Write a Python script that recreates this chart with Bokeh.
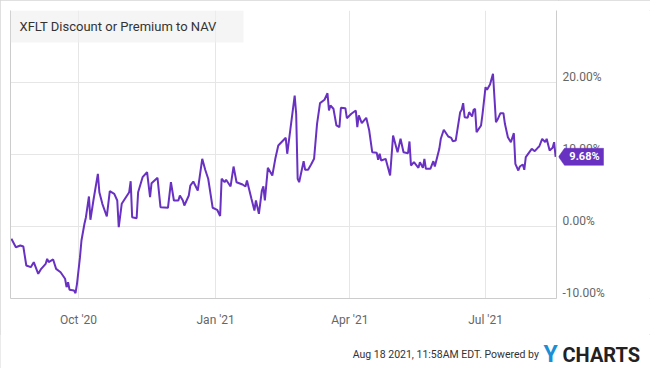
import pandas as pd
from bokeh.plotting import figure
from bokeh.layouts import column, row
from bokeh.models import (Range1d, LinearAxis, DatetimeAxis, FixedTicker, DatetimeTickFormatter,
                          Grid, Label, BoxAnnotation, ColumnDataSource)
from bokeh.core.properties import value
from bokeh.embed import file_html
from bokeh.resources import INLINE

# ---------------- data ----------------
title_text = "XFLT Discount or Premium to NAV"
footer_text = "Aug 18 2021, 11:58AM EDT.  Powered by"
brand_y = "Y"
brand_rest = "CHARTS"

x_tick_dates = ["2020-10-01", "2021-01-01", "2021-04-01", "2021-07-01"]
y_ticks = [-10, 0, 10, 20]
y_tick_labels = ["-10.00%", "0.00%", "10.00%", "20.00%"]

dates = [
    "2020-08-17", "2020-08-20", "2020-08-23", "2020-08-25", "2020-08-27", "2020-08-30", "2020-09-01",
    "2020-09-04", "2020-09-06", "2020-09-09", "2020-09-10", "2020-09-11", "2020-09-14", "2020-09-16",
    "2020-09-19", "2020-09-22", "2020-09-23", "2020-09-24", "2020-09-25", "2020-09-28", "2020-09-29",
    "2020-09-30",
    "2020-10-02", "2020-10-03", "2020-10-05", "2020-10-06", "2020-10-08", "2020-10-09", "2020-10-11",
    "2020-10-14", "2020-10-15", "2020-10-17", "2020-10-20", "2020-10-22", "2020-10-25", "2020-10-27",
    "2020-10-28", "2020-10-30",
    "2020-11-04", "2020-11-05", "2020-11-06", "2020-11-09", "2020-11-10", "2020-11-13", "2020-11-16",
    "2020-11-18", "2020-11-19", "2020-11-23", "2020-11-25", "2020-11-30",
    "2020-12-02", "2020-12-04", "2020-12-07", "2020-12-08", "2020-12-10", "2020-12-11", "2020-12-14",
    "2020-12-15", "2020-12-17", "2020-12-20", "2020-12-23", "2020-12-25", "2020-12-27", "2020-12-30",
    "2021-01-02", "2021-01-04", "2021-01-05", "2021-01-07", "2021-01-08", "2021-01-11", "2021-01-13",
    "2021-01-15", "2021-01-19", "2021-01-21", "2021-01-22", "2021-01-25", "2021-01-27", "2021-01-28",
    "2021-01-30",
    "2021-02-01", "2021-02-02", "2021-02-03", "2021-02-05", "2021-02-08", "2021-02-10", "2021-02-12",
    "2021-02-17", "2021-02-18", "2021-02-20", "2021-02-23", "2021-02-24", "2021-02-25", "2021-02-26",
    "2021-03-01", "2021-03-02", "2021-03-04", "2021-03-06", "2021-03-08", "2021-03-10", "2021-03-12",
    "2021-03-15", "2021-03-17", "2021-03-18", "2021-03-19", "2021-03-21", "2021-03-23", "2021-03-25",
    "2021-03-26", "2021-03-29", "2021-03-30",
    "2021-04-02", "2021-04-05", "2021-04-06", "2021-04-07", "2021-04-09", "2021-04-12", "2021-04-14",
    "2021-04-16", "2021-04-19", "2021-04-20", "2021-04-21", "2021-04-22", "2021-04-25", "2021-04-28",
    "2021-04-30",
    "2021-05-03", "2021-05-05", "2021-05-07", "2021-05-10", "2021-05-11", "2021-05-12", "2021-05-14",
    "2021-05-17", "2021-05-18", "2021-05-20", "2021-05-21", "2021-05-22", "2021-05-25", "2021-05-27",
    "2021-05-28", "2021-05-31",
    "2021-06-01", "2021-06-03", "2021-06-06", "2021-06-08", "2021-06-09", "2021-06-11", "2021-06-14",
    "2021-06-15", "2021-06-16", "2021-06-17", "2021-06-19", "2021-06-20", "2021-06-22", "2021-06-23",
    "2021-06-24", "2021-06-25", "2021-06-28", "2021-06-29",
    "2021-07-01", "2021-07-02", "2021-07-04", "2021-07-06", "2021-07-08", "2021-07-09", "2021-07-11",
    "2021-07-13", "2021-07-14", "2021-07-16", "2021-07-18", "2021-07-20", "2021-07-21", "2021-07-23",
    "2021-07-24", "2021-07-26", "2021-07-27", "2021-07-28",
    "2021-08-01", "2021-08-03", "2021-08-05", "2021-08-06", "2021-08-08", "2021-08-10", "2021-08-11",
    "2021-08-13", "2021-08-15", "2021-08-16", "2021-08-17",
]

values = [
    -1.71, -2.88, -2.64, -2.78, -5.42, -5.65, -4.96, -6.57, -5.88, -5.18, -4.49, -4.96, -4.58, -5.88,
    -6.35, -7.26, -8.43, -7.74, -8.79, -8.89, -9.26, -7.96,
    -4.26, -1.94, 0.38, 1.29, 4.17, 0.93, 3.61, 7.32, 4.76, 3.15, 1.39, 4.90, 4.54, 3.61, -0.10, 3.15,
    4.76, 6.29, 1.29, 1.15, 4.76, 6.85, 7.54, 4.07, 6.01, 6.76, 2.68, 2.60,
    6.15, 3.61, 3.61, 4.31, 3.61, 2.92, 4.31, 5.69, 6.25, 5.00, 9.40, 7.88, 6.63, 2.60,
    2.32, 1.46, 6.63, 6.15, 6.49, 5.56, 8.33, 6.15, 5.83, 5.56, 6.39, 3.85, 2.22, 3.61, 1.76,
    5.00, 5.56, 3.61, 8.15, 7.08, 9.40, 11.25, 12.32, 10.10, 13.33, 18.19, 15.65, 6.63, 6.15,
    9.07, 7.88, 7.88, 8.61, 9.40, 14.26, 17.13, 17.60, 18.51, 16.11, 16.81, 16.35, 14.03, 13.79,
    16.49, 16.43, 15.04,
    15.65, 16.11, 13.79, 15.42, 14.35, 15.10, 13.33, 10.32, 10.24, 9.26, 10.10, 9.17, 9.40, 7.08, 12.64,
    10.32, 12.18, 10.32, 10.18, 11.81, 8.47, 8.93, 8.15, 8.93, 8.15, 9.40, 8.01, 8.01, 9.07, 8.33, 10.79,
    12.18, 13.43, 12.50, 12.32, 11.85, 11.94, 15.88, 16.21, 17.13, 15.18, 15.10, 15.88, 15.28, 16.21,
    16.35, 13.10, 14.03, 15.65,
    19.35, 18.99, 19.72, 21.21, 14.49, 14.82, 15.74, 15.74, 14.26, 12.40, 11.71, 12.96, 8.71, 7.78,
    8.33, 8.61, 7.88, 9.63,
    10.79, 10.46, 10.93, 11.11, 12.18, 11.71, 12.18, 10.56, 10.93, 11.71, 9.68,
]

# ---------------- layout ----------------
MW, MH = 558, 334            # main figure
ML, MR, MT, MB = 10, 2, 10, 36
FW = MW - ML - MR
FH = MH - MT - MB
RW = 92                      # right label strip
TW = MW + RW                 # total width (650)
FOOT_H = 34                  # total height 368

x0 = pd.Timestamp("2020-08-16 09:36")
x1 = pd.Timestamp("2021-08-17 14:24")
Y0, Y1 = -10.0, 30.0
x0_ms = x0.value / 1e6
x1_ms = x1.value / 1e6
PPU = FH / (Y1 - Y0)         # pixels per percentage point


def xpx(px):
    return x0_ms + (x1_ms - x0_ms) * px / FW


def ypx(px):
    return Y1 - px / PPU


PURPLE = "#6931c2"
GRID = "#e6e6e6"
BORDER = "#cccccc"
TICK = "#666666"
FONT = "Roboto"

yr = Range1d(Y0, Y1)
p = figure(width=MW, height=MH, x_axis_type="datetime",
           x_range=Range1d(x0, x1), y_range=yr,
           output_backend="svg", toolbar_location=None,
           x_axis_location=None, y_axis_location=None,
           min_border_left=ML, min_border_right=MR, min_border_top=MT, min_border_bottom=MB)
p.outline_line_color = None
p.xgrid.visible = False
p.ygrid.visible = False

xt = [pd.Timestamp(d).value / 1e6 for d in x_tick_dates]
p.add_layout(Grid(dimension=0, ticker=FixedTicker(ticks=xt), grid_line_color=GRID), "center")
p.add_layout(Grid(dimension=1, ticker=FixedTicker(ticks=y_ticks), grid_line_color=GRID), "center")

fmt = "%b '%y"
xaxis = DatetimeAxis(ticker=FixedTicker(ticks=xt),
                     formatter=DatetimeTickFormatter(days=fmt, months=fmt, years=fmt))
xaxis.axis_line_color = BORDER
xaxis.major_tick_line_color = None
xaxis.minor_tick_line_color = None
xaxis.major_tick_out = 0
xaxis.minor_tick_out = 0
xaxis.major_label_text_font = FONT
xaxis.major_label_text_font_size = "12px"
xaxis.major_label_text_color = TICK
xaxis.major_label_standoff = 14
p.add_layout(xaxis, "below")

for side in ("left", "right"):
    ax = LinearAxis(ticker=FixedTicker(ticks=[]))
    ax.axis_line_color = BORDER
    ax.major_tick_line_color = None
    ax.minor_tick_line_color = None
    ax.major_tick_out = 0
    ax.minor_tick_out = 0
    ax.major_label_text_font_size = "0px"
    ax.major_label_standoff = 0
    p.add_layout(ax, side)

src = ColumnDataSource(dict(date=pd.to_datetime(dates), value=values))
p.line(x="date", y="value", source=src, line_color=PURPLE, line_width=2)

# title box
p.add_layout(BoxAnnotation(right=xpx(233), bottom=ypx(32), fill_color="#efefef", fill_alpha=0.65,
                           line_color=None))
p.add_layout(Label(x=xpx(9), y=ypx(16), text=title_text, text_baseline="middle",
                   text_font=FONT, text_font_size="13px", text_color="#333333"))

# ---------------- right strip: tick labels + last value badge ----------------
# (the row aligns this strip's frame with the main frame, so it shares the y range)
r = figure(width=RW, height=MH, x_range=Range1d(0, RW), y_range=yr,
           output_backend="svg", toolbar_location=None,
           x_axis_location=None, y_axis_location=None,
           min_border=0, min_border_left=0, min_border_right=0,
           min_border_top=MT, min_border_bottom=MB)
r.outline_line_color = None
r.xgrid.visible = False
r.ygrid.visible = False
tick_src = ColumnDataSource(dict(y=y_ticks, text=y_tick_labels))
r.text(x=4, y="y", text="text", source=tick_src, y_offset=-6,
       text_font=value(FONT), text_font_size="12px", text_color=TICK,
       text_baseline="middle", text_align="left")

last_v = values[-1]
half = 8.5 / PPU
tip, body, end = 0, 6, 45
r.patch(x=[tip, body, end, end, body],
        y=[last_v, last_v + half, last_v + half, last_v - half, last_v - half],
        fill_color=PURPLE, line_color=PURPLE, line_width=0.5)
r.text(x=(body + end) / 2 + 0.5, y=last_v, text=[f"{last_v:.2f}%"],
       text_font=value(FONT), text_font_style="bold", text_font_size="11px", text_color="white",
       text_baseline="middle", text_align="center")

# ---------------- footer ----------------
f = figure(width=TW, height=FOOT_H, x_range=Range1d(0, TW), y_range=Range1d(FOOT_H, 0),
           output_backend="svg", toolbar_location=None,
           x_axis_location=None, y_axis_location=None,
           min_border=0, min_border_left=0, min_border_right=0, min_border_top=0, min_border_bottom=0)
f.outline_line_color = None
f.xgrid.visible = False
f.ygrid.visible = False
fy = 20
f.add_layout(Label(x=541, y=fy, text=footer_text, text_align="right", text_baseline="middle",
                   text_font=FONT, text_font_size="10.5px", text_color="#333333"))
f.add_layout(Label(x=543, y=fy, text=brand_y, text_align="left", text_baseline="middle",
                   text_font=FONT, text_font_style="bold", text_font_size="23px", text_color="#1a8fd6"))
f.add_layout(Label(x=562, y=fy, text=brand_rest, text_align="left", text_baseline="middle",
                   text_font=FONT, text_font_style="bold", text_font_size="20px", text_color="#222222"))

layout = column(row(p, r), f)
layout.styles = {"outline": "1px solid #d6d6d6", "outline-offset": "-1px"}
open("out.html", "w").write(file_html(layout, INLINE))
